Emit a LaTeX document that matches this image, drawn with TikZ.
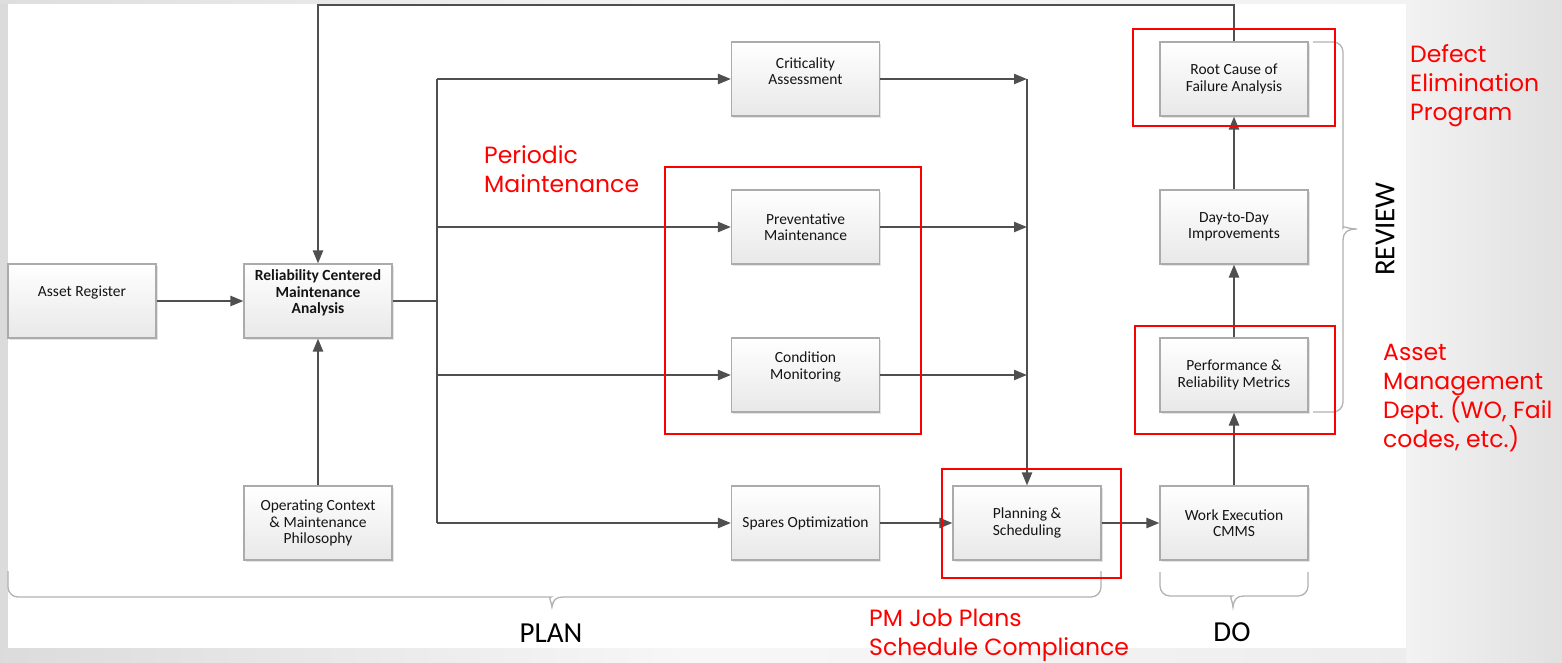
\documentclass[tikz,border=0pt]{standalone}
\usepackage{fontspec}
\setmainfont{Carlito}
\newfontfamily\notefont{Poppins}
\usetikzlibrary{arrows.meta,shadows}
\definecolor{conncol}{HTML}{4F4F4F}
\definecolor{notered}{HTML}{FF0000}
\definecolor{bracecol}{HTML}{B2B2B2}

\begin{document}
\begin{tikzpicture}[x=1pt,y=-1pt,
  box/.style={draw=black!33, line width=1.1pt, top color=white, bottom color=black!9,
    minimum width=148pt, minimum height=74pt, inner sep=0pt,
    drop shadow={shadow xshift=1.6pt, shadow yshift=-1.6pt, fill=black!30, opacity=0.35}},
  boxtext/.style={align=center, font=\fontsize{15.5}{16.5}\selectfont, text=black!92, inner sep=0pt},
  conn/.style={draw=conncol, line width=2.3pt},
  arr/.style={conn, -{Triangle[length=13pt,width=10pt]}},
  redbox/.style={draw=notered, line width=1.8pt},
  note/.style={text=notered, font=\notefont\fontsize{23.5}{29}\selectfont, align=left,
    inner sep=0pt, anchor=base west},
  phase/.style={font=\fontsize{29}{32}\selectfont, text=black, inner sep=0pt},
  bracket/.style={draw=bracecol, line width=1.3pt}
]
% page background and white sheet
\useasboundingbox (0,0) rectangle (1562,662);
\fill[black!12] (0,0) rectangle (1562,662);
\shade[left color=black!5, right color=black!12] (1406,0) rectangle (1562,662);
\shade[left color=black!14, right color=black!3] (0,648) rectangle (700,662);
\shade[left color=black!3, right color=black!7] (700,648) rectangle (1406,662);
\shade[left color=black!13, right color=black!4] (0,0) rectangle (700,4);
\shade[left color=black!4, right color=black!5] (700,0) rectangle (1406,4);
\fill[black!14] (0,4) rectangle (8,648);
\fill[white] (8,4) rectangle (1406,648);

% phase brackets
\draw[bracket] (8,571) [rounded corners=10pt] |- (541,597) [sharp corners]
  .. controls (548,597) and (551,600) .. (552,607)
  .. controls (553,600) and (556,597) .. (563,597) [rounded corners=10pt] -| (1101,571);
\draw[bracket] (1160,572) [rounded corners=10pt] |- (1222,596) [sharp corners]
  .. controls (1229,596) and (1232,599) .. (1233,607)
  .. controls (1234,599) and (1237,596) .. (1244,596) [rounded corners=10pt] -| (1308,572);
\draw[bracket] (1313,42) [rounded corners=10pt] -| (1343,218) [sharp corners]
  .. controls (1343,225) and (1347,229) .. (1357,229)
  .. controls (1347,229) and (1343,233) .. (1343,240) [rounded corners=10pt] |- (1313,412);

\node[phase, anchor=base] (planlbl) at (551,642) {PLAN};
\node[phase, anchor=base] (dolbl) at (1232,641) {DO};
\node[phase, rotate=90] (reviewlbl) at (1385,229) {REVIEW};

% process boxes
\node[box] (asset)  at (82,301)    {};
\node[box] (rcm)    at (318,301)   {};
\node[box] (opctx)  at (318,523)   {};
\node[box] (crit)   at (805.5,79)  {};
\node[box] (prev)   at (805.5,227) {};
\node[box] (cond)   at (805.5,375) {};
\node[box] (spares) at (805.5,523) {};
\node[box] (plan)   at (1027,523)  {};
\node[box] (work)   at (1234,523)  {};
\node[box] (perf)   at (1234,375)  {};
\node[box] (day)    at (1234,227)  {};
\node[box] (root)   at (1234,79)   {};

\node[boxtext] (asset-t)  at ([yshift=9pt]asset.center) {Asset Register};
\node[boxtext, font=\bfseries\fontsize{15.5}{16.5}\selectfont] (rcm-t) at ([yshift=8pt]rcm.center)
  {Reliability Centered\\Maintenance\\Analysis};
\node[boxtext] (opctx-t)  at (opctx.center) {Operating Context\\\& Maintenance\\Philosophy};
\node[boxtext] (crit-t)   at ([yshift=8pt]crit.center) {Criticality\\Assessment};
\node[boxtext] (prev-t)   at (prev.center) {Preventative\\Maintenance};
\node[boxtext] (cond-t)   at ([yshift=8pt]cond.center) {Condition\\Monitoring};
\node[boxtext] (spares-t) at (spares.center) {Spares Optimization};
\node[boxtext] (plan-t)   at (plan.center) {Planning \&\\Scheduling};
\node[boxtext] (work-t)   at (work.center) {Work Execution\\CMMS};
\node[boxtext] (perf-t)   at (perf.center) {Performance \&\\Reliability Metrics};
\node[boxtext] (day-t)    at (day.center) {Day-to-Day\\Improvements};
\node[boxtext] (root-t)   at (root.center) {Root Cause of\\Failure Analysis};

% junction points
\coordinate (trtop) at (437,79);
\coordinate (trbot) at (437,523);
\coordinate (jn) at (1027,79);
\coordinate (loopR) at (1234,5);

% connectors
\draw[arr] (asset) -- (rcm);
\draw[arr] (opctx) -- (rcm);
\draw[conn] (rcm.east) -- (rcm.east -| trtop);
\draw[conn] (trtop) -- (trbot);
\draw[arr] (trtop) -- (crit.west);
\draw[arr] (prev.west -| trtop) -- (prev.west);
\draw[arr] (cond.west -| trtop) -- (cond.west);
\draw[arr] (trbot) -- (spares.west);
\draw[arr] (crit.east) -- (jn);
\draw[arr] (prev.east) -- (prev.east -| jn);
\draw[arr] (cond.east) -- (cond.east -| jn);
\draw[arr] (jn) -- (plan.north);
\draw[arr] (spares) -- (plan);
\draw[arr] (plan) -- (work);
\draw[arr] (work) -- (perf);
\draw[arr] (perf) -- (day);
\draw[arr] (day) -- (root);
\draw[arr] (root.north) -- (loopR) -| (rcm.north);

% highlight frames
\draw[redbox] (665,167) rectangle (921,434);
\draw[redbox] (1133,29) rectangle (1335,126);
\draw[redbox] (1135,326) rectangle (1335,434);
\draw[redbox] (942,469) rectangle (1121,578);

% notes (anchored at the baseline of their last line)
\node[note] (n-pm)   at (484,192)  {Periodic\\Maintenance};
\node[note] (n-def)  at (1410,120) {Defect\\Elimination\\Program};
\node[note] (n-amd)  at (1383,447) {Asset\\Management\\Dept.\ (WO, Fail\\codes, etc.)};
\node[note] (n-job)  at (869,655)  {PM Job Plans\\Schedule Compliance};
\end{tikzpicture}
\end{document}
